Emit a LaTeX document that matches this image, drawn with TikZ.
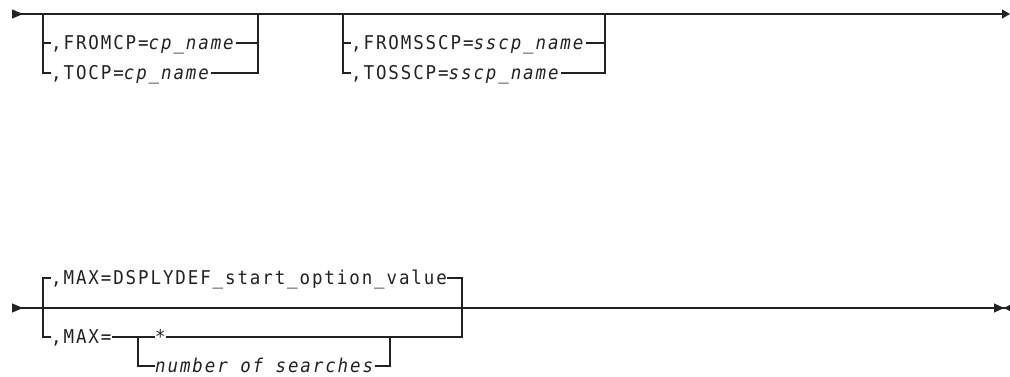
\documentclass[tikz,border=0pt]{standalone}
\usepackage{fontspec}
\usetikzlibrary{arrows.meta}
\newfontfamily\sdfont{DejaVu Sans Mono}[FakeStretch=0.92,LetterSpace=10]
\definecolor{ink}{HTML}{222222}
\tikzset{
  rail/.style={draw=ink,line width=1.2pt},
  lbl/.style={anchor=west,inner sep=0pt,text height=13.9pt,text depth=0pt,
    font=\sdfont\fontsize{19}{22}\selectfont,text=ink},
}
\begin{document}
\begin{tikzpicture}[x=1pt,y=-1pt]
\useasboundingbox (0,0) rectangle (1010,377);
% ---------- top diagram ----------
\coordinate (s1) at (12,14);
\coordinate (e1) at (1010,14);
\coordinate (a1) at (43,14);
\coordinate (b1) at (258,14);
\coordinate (a3) at (343,14);
\coordinate (b3) at (605,14);
\draw[rail,{Triangle[reversed,length=11pt,width=9pt]}-{Triangle[length=8pt,width=9pt]}] (s1) -- (e1);
\node[lbl] (t1) at (51,43) {,FROMCP=\textit{cp\_name}};
\node[lbl] (t2) at (51,73) {,TOCP=\textit{cp\_name}};
\draw[rail] (a1) |- (t1.west);
\draw[rail] (t1.east) -| (b1);
\draw[rail] (a1) |- (t2.west);
\draw[rail] (t2.east) -| (b1);
\node[lbl] (t3) at (351,43) {,FROMSSCP=\textit{sscp\_name}};
\node[lbl] (t4) at (351,73) {,TOSSCP=\textit{sscp\_name}};
\draw[rail] (a3) |- (t3.west);
\draw[rail] (t3.east) -| (b3);
\draw[rail] (a3) |- (t4.west);
\draw[rail] (t4.east) -| (b3);
% ---------- bottom diagram ----------
\coordinate (s2) at (12,308);
\coordinate (e2) at (1010,308);
\coordinate (a2) at (43,308);
\coordinate (b2) at (462,308);
\coordinate (c2) at (138,337);
\coordinate (d2) at (390,337);
\draw[rail,{Triangle[reversed,length=11pt,width=9pt]}-{Triangle[length=10pt,width=9pt] Triangle[reversed,length=6pt,width=6pt]}] (s2) -- (e2);
\node[lbl] (t5) at (51,278) {,MAX=DSPLYDEF\_start\_option\_value};
\node[lbl] (t6) at (51,337) {,MAX=};
\node[lbl] (t7) at (155,337) {*};
\node[lbl] (t8) at (155,366) {\textit{number of searches}};
\draw[rail] (a2) |- (t5.west);
\draw[rail] (t5.east) -| (b2);
\draw[rail] (a2) |- (t6.west);
\draw[rail] (t6.east) -- (c2);
\draw[rail] (c2) -- (t7.west);
\draw[rail] (t7.east) -| (b2);
\draw[rail] (c2) |- (t8.west);
\draw[rail] (t8.east) -| (d2);
\end{tikzpicture}
\end{document}
